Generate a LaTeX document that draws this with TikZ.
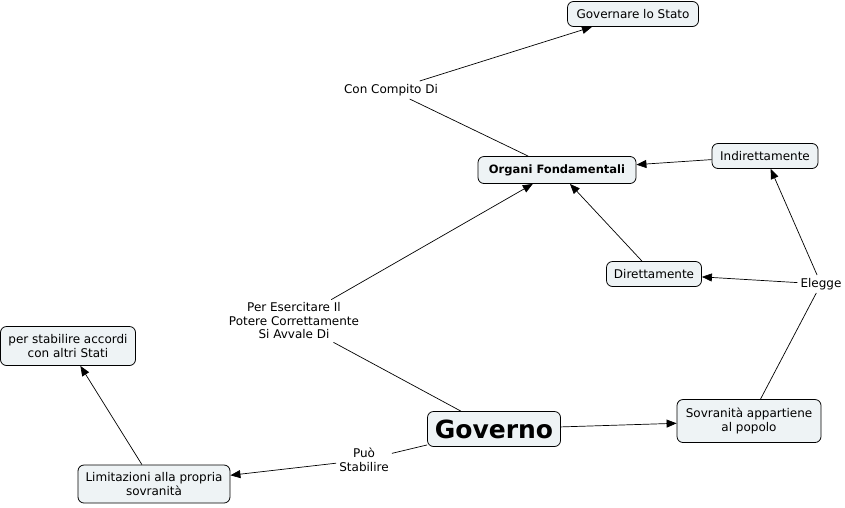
\documentclass[tikz,border=0pt]{standalone}
\usepackage{fontspec}
\setmainfont{DejaVu Sans}
\usetikzlibrary{arrows.meta}
\definecolor{boxfill}{HTML}{EEF3F5}
\begin{document}
\begin{tikzpicture}[x=1pt,y=-1pt,
  concept/.style={draw=black,line width=0.8pt,fill=boxfill,rounded corners=6pt,
    inner sep=0pt,align=center,font=\fontsize{12}{13.5}\selectfont},
  lbl/.style={inner sep=3pt,align=center,font=\fontsize{12}{13.5}\selectfont},
  conn/.style={line width=0.7pt},
  arr/.style={line width=0.7pt,-{Triangle[length=10pt,width=8pt]}}]
\useasboundingbox (0,0) rectangle (845,507);
\node[concept,minimum width=131pt,minimum height=25pt] (gov1) at (633,14) {Governare lo Stato};
\node[concept,minimum width=158pt,minimum height=27pt,font=\fontsize{11.5}{13.5}\selectfont\bfseries] (org) at (557,170) {Organi Fondamentali};
\node[concept,minimum width=106pt,minimum height=25pt] (ind) at (765,156) {Indirettamente};
\node[concept,minimum width=95pt,minimum height=25pt] (dir) at (654,274) {Direttamente};
\node[concept,minimum width=144pt,minimum height=43pt] (sov) at (749,421) {Sovranità appartiene\\al popolo};
\node[concept,minimum width=133pt,minimum height=35pt,font=\fontsize{25}{30}\selectfont\bfseries] (gvn) at (494,429) {Governo};
\node[concept,minimum width=152pt,minimum height=38pt] (lim) at (154,484) {Limitazioni alla propria\\sovranità};
\node[concept,minimum width=135pt,minimum height=39pt] (acc) at (68,346) {per stabilire accordi\\con altri Stati};
\node[lbl] (l1) at (391,90) {Con Compito Di};
\node[lbl] (l2) at (294,321) {Per Esercitare Il\\Potere Correttamente\\Si Avvale Di};
\node[lbl] (l3) at (364,460) {Può\\Stabilire};
\node[lbl] (l4) at (821,284) {Elegge};
\draw[conn] (org) -- (l1);
\draw[arr] (l1) -- (gov1);
\draw[conn] (gvn) -- (l2);
\draw[arr] (l2) -- (org);
\draw[arr] (ind) -- (org);
\draw[arr] (dir) -- (org);
\draw[conn] (sov) -- (l4);
\draw[arr] (l4) -- (dir);
\draw[arr] (l4) -- (ind);
\draw[arr] (gvn) -- (sov);
\draw[conn] (gvn) -- (l3);
\draw[arr] (l3) -- (lim);
\draw[arr] (lim) -- (acc);
\end{tikzpicture}
\end{document}
